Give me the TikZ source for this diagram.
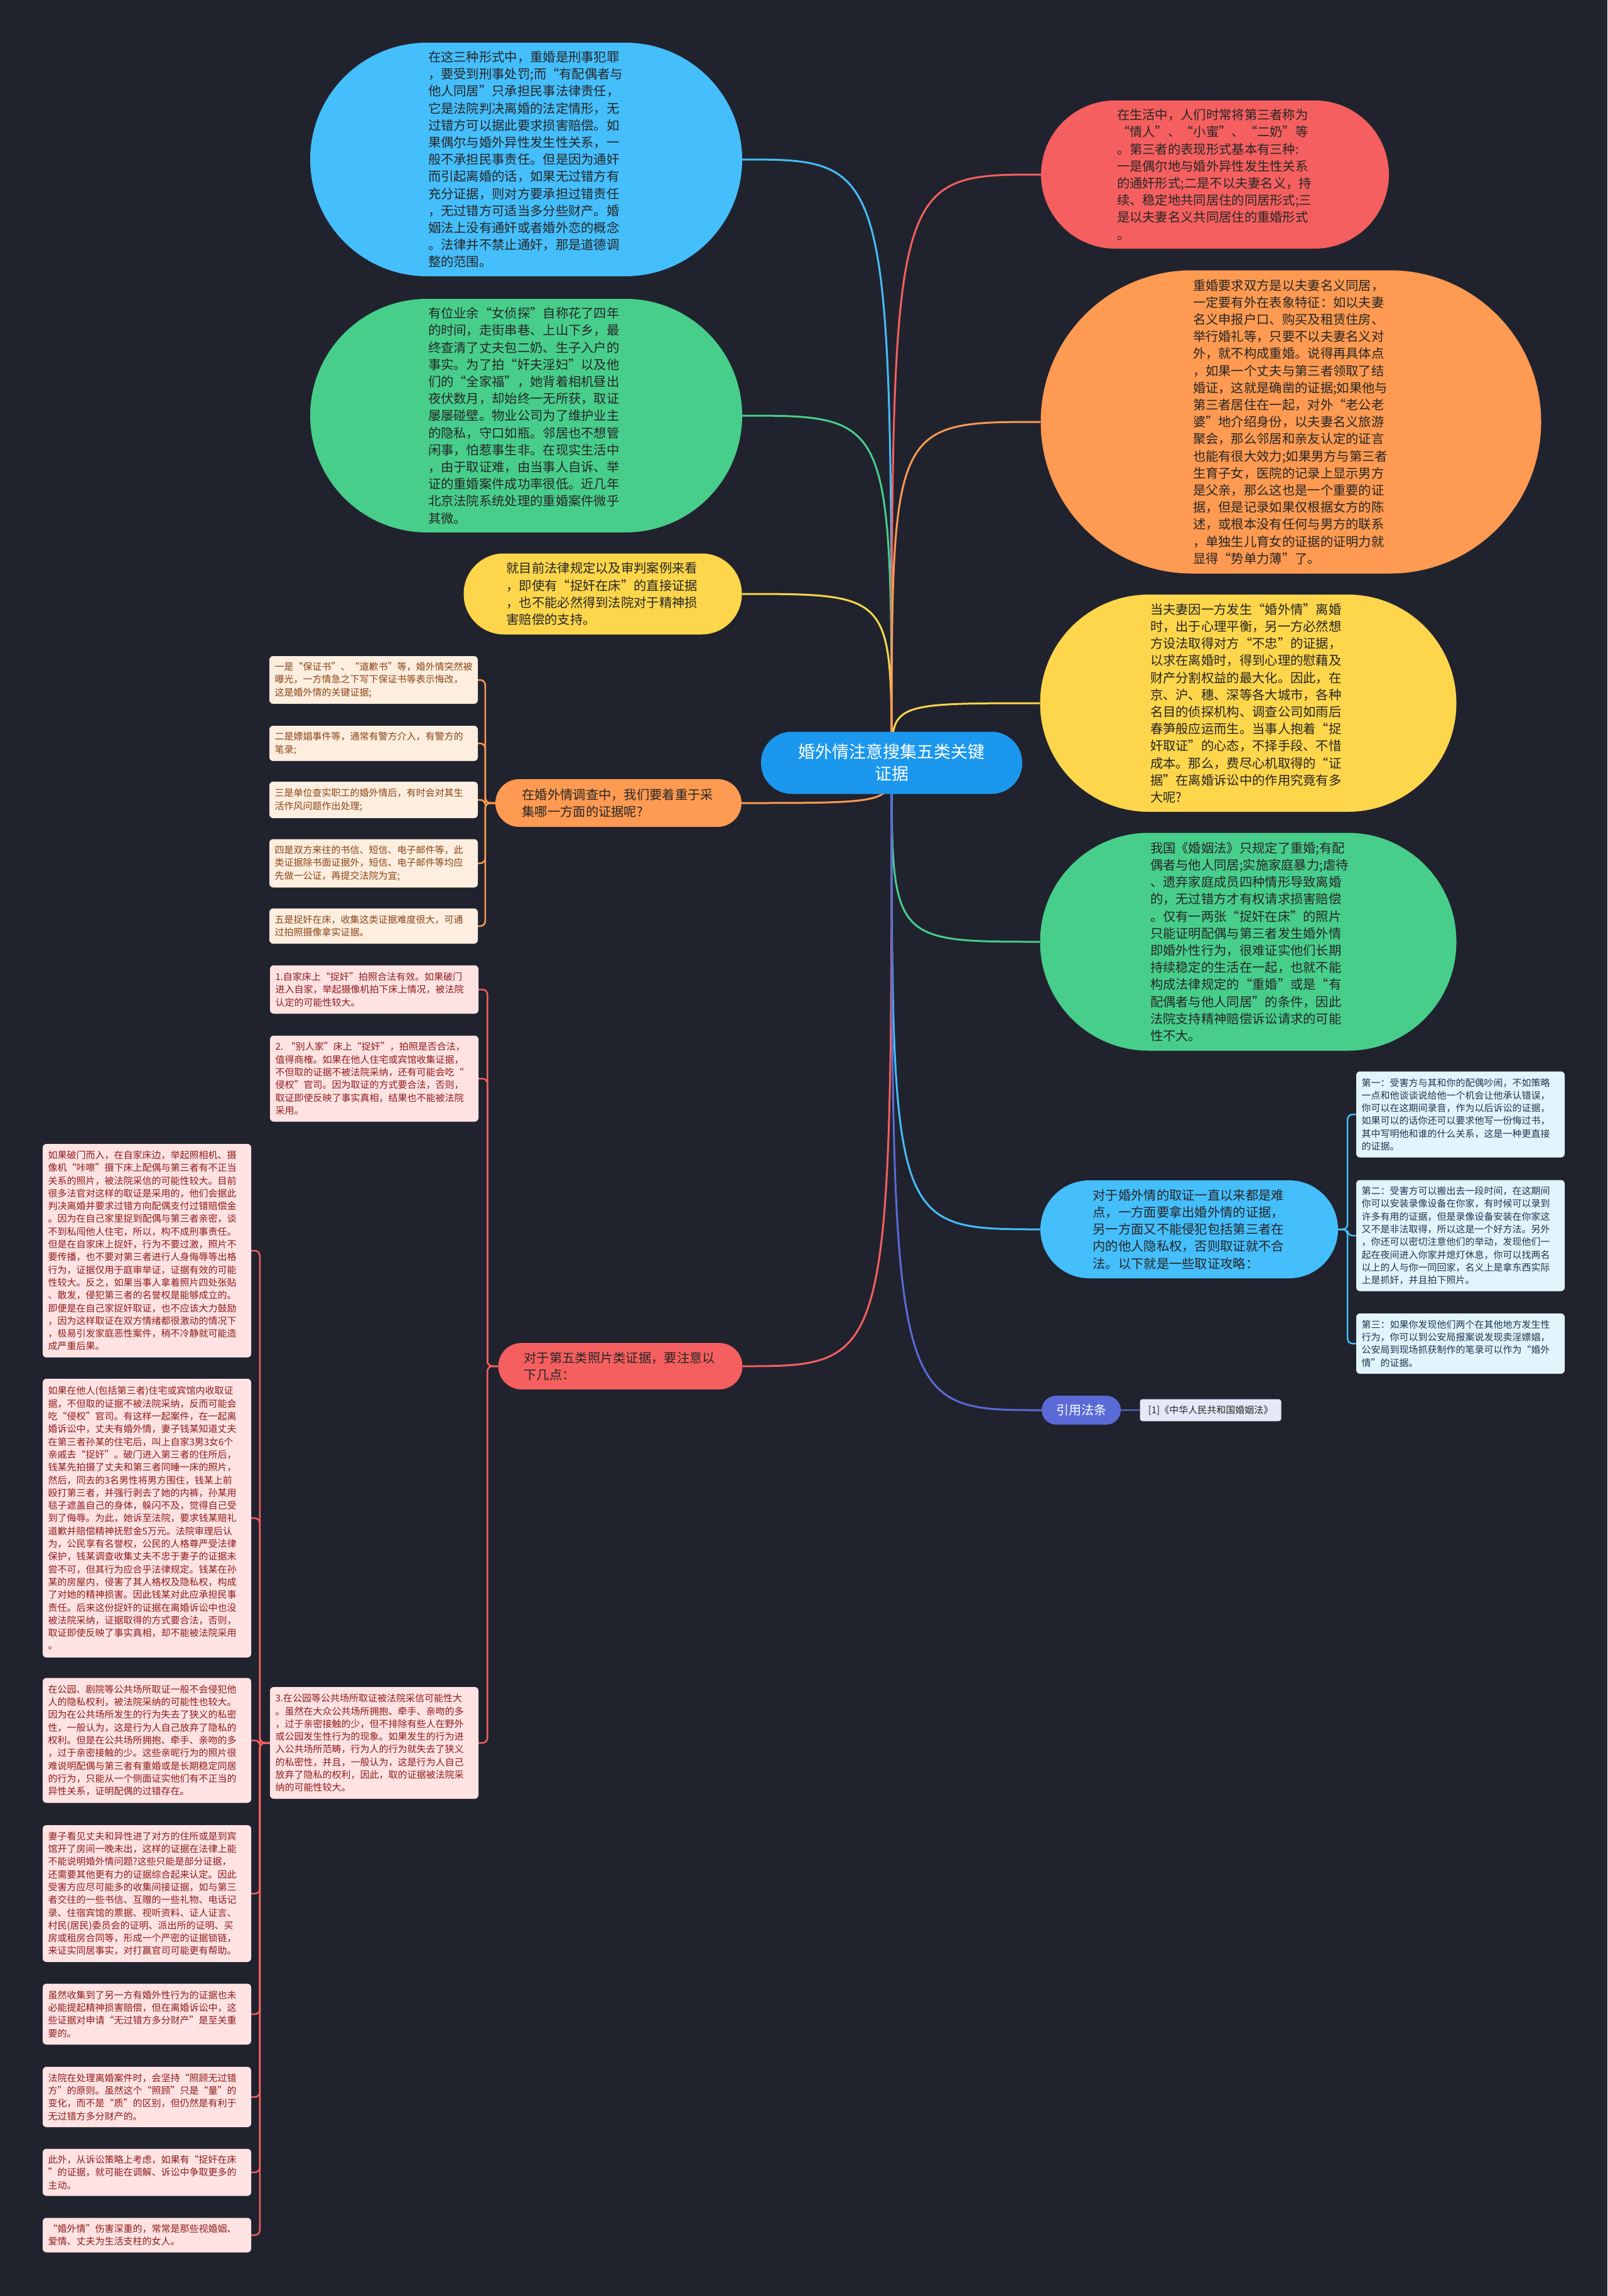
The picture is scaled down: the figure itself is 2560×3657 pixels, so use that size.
\documentclass[tikz,border=0pt]{standalone}
\usepackage{fontspec}
\setmainfont{Noto Sans CJK SC}
\usepackage{xcolor}
\usepackage{tikz}
\usetikzlibrary{positioning}

\definecolor{canvas}{HTML}{20232E}
\definecolor{rootblue}{HTML}{1B98EE}
\definecolor{skyblue}{HTML}{45BEFC}
\definecolor{leafgreen}{HTML}{48CE8B}
\definecolor{sunyellow}{HTML}{FDD64B}
\definecolor{tangerine}{HTML}{FE9A51}
\definecolor{coral}{HTML}{F55F5F}
\definecolor{lawblue}{HTML}{5A6BD7}
\definecolor{peach}{HTML}{FDEEDF}
\definecolor{blush}{HTML}{FFE3E3}
\definecolor{ice}{HTML}{E2F5FD}
\definecolor{lavender}{HTML}{E6E8F8}
\definecolor{inkdark}{HTML}{262626}
\definecolor{rust}{HTML}{8A4416}
\definecolor{wine}{HTML}{8E1B1B}
\definecolor{navy}{HTML}{1E3550}

\newcommand{\bigtxt}{\fontsize{20.3pt}{27.2pt}\selectfont}
\newcommand{\smalltxt}{\fontsize{15pt}{20.3pt}\selectfont}

\pgfdeclarelayer{canvaslayer}
\pgfdeclarelayer{links}
\pgfsetlayers{canvaslayer,links,main}

\begin{document}
\begin{tikzpicture}[
  x=1pt, y=-1pt,
  rootbox/.style={rectangle, fill=rootblue, text=white, align=center, inner sep=0pt, minimum width=416pt, minimum height=99pt, rounded corners=49pt, font=\fontsize{27pt}{35pt}\selectfont},
  bubble/.style={rectangle, fill=#1, text=inkdark, align=left, inner sep=0pt, text width=312pt, font=\bigtxt},
  topic/.style={rectangle, fill=#1, text=inkdark, align=left, inner sep=0pt, text width=307pt, font=\bigtxt},
  leaf/.style={rectangle, rounded corners=6pt, text width=315pt, inner xsep=8.5pt, inner ysep=4pt, align=left, font=\smalltxt},
  peachleaf/.style={leaf, fill=peach, text=rust},
  pinkleaf/.style={leaf, fill=blush, text=wine},
  iceleaf/.style={leaf, fill=ice, text=navy},
  trunk/.style={line width=3pt},
  twig/.style={line width=2.5pt, rounded corners=8pt},
]
\useasboundingbox (0,0) rectangle (2560,3657);
\begin{pgfonlayer}{canvaslayer}
\fill[canvas] (0,0) rectangle (2560,3657);
\end{pgfonlayer}

\node[rootbox] (root) at (1420,1215) {婚外情注意搜集五类关键\\证据};

\node[bubble=skyblue, minimum width=688pt, minimum height=372pt, rounded corners=186pt] (tlblue) at (838,254) {在这三种形式中，重婚是刑事犯罪\\，要受到刑事处罚;而“有配偶者与\\他人同居”只承担民事法律责任，\\它是法院判决离婚的法定情形，无\\过错方可以据此要求损害赔偿。如\\果偶尔与婚外异性发生性关系，一\\般不承担民事责任。但是因为通奸\\而引起离婚的话，如果无过错方有\\充分证据，则对方要承担过错责任\\，无过错方可适当多分些财产。婚\\姻法上没有通奸或者婚外恋的概念\\。法律并不禁止通奸，那是道德调\\整的范围。};
\node[bubble=leafgreen, minimum width=688pt, minimum height=372pt, rounded corners=186pt] (lgreen) at (838,662) {有位业余“女侦探”自称花了四年\\的时间，走街串巷、上山下乡，最\\终查清了丈夫包二奶、生子入户的\\事实。为了拍“奸夫淫妇”以及他\\们的“全家福”，她背着相机昼出\\夜伏数月，却始终一无所获，取证\\屡屡碰壁。物业公司为了维护业主\\的隐私，守口如瓶。邻居也不想管\\闲事，怕惹事生非。在现实生活中\\，由于取证难，由当事人自诉、举\\证的重婚案件成功率很低。近几年\\北京法院系统处理的重婚案件微乎\\其微。};
\node[topic=sunyellow, minimum width=443pt, minimum height=129pt, rounded corners=64pt] (lyellow) at (960,946) {就目前法律规定以及审判案例来看\\，即使有“捉奸在床”的直接证据\\，也不能必然得到法院对于精神损\\害赔偿的支持。};
\node[topic=tangerine, minimum width=392pt, minimum height=76pt, rounded corners=38pt] (qorange) at (985,1279) {在婚外情调查中，我们要着重于采\\集哪一方面的证据呢?};
\node[topic=coral, minimum width=389pt, minimum height=74pt, rounded corners=37pt] (photored) at (988,2176) {对于第五类照片类证据，要注意以\\下几点：};

\node[bubble=coral, minimum width=554pt, minimum height=236pt, rounded corners=118pt] (rred) at (1935,278) {在生活中，人们时常将第三者称为\\“情人”、“小蜜”、“二奶”等\\。第三者的表现形式基本有三种:\\一是偶尔地与婚外异性发生性关系\\的通奸形式;二是不以夫妻名义，持\\续、稳定地共同居住的同居形式;三\\是以夫妻名义共同居住的重婚形式\\。};
\node[bubble=tangerine, minimum width=797pt, minimum height=483pt, rounded corners=241pt] (rorange) at (2056,672) {重婚要求双方是以夫妻名义同居，\\一定要有外在表象特征：如以夫妻\\名义申报户口、购买及租赁住房、\\举行婚礼等，只要不以夫妻名义对\\外，就不构成重婚。说得再具体点\\，如果一个丈夫与第三者领取了结\\婚证，这就是确凿的证据;如果他与\\第三者居住在一起，对外“老公老\\婆”地介绍身份，以夫妻名义旅游\\聚会，那么邻居和亲友认定的证言\\也能有很大效力;如果男方与第三者\\生育子女，医院的记录上显示男方\\是父亲，那么这也是一个重要的证\\据，但是记录如果仅根据女方的陈\\述，或根本没有任何与男方的联系\\，单独生儿育女的证据的证明力就\\显得“势单力薄”了。};
\node[bubble=sunyellow, minimum width=663pt, minimum height=346pt, rounded corners=173pt] (ryellow) at (1988,1120) {当夫妻因一方发生“婚外情”离婚\\时，出于心理平衡，另一方必然想\\方设法取得对方“不忠”的证据，\\以求在离婚时，得到心理的慰藉及\\财产分割权益的最大化。因此，在\\京、沪、穗、深等各大城市，各种\\名目的侦探机构、调查公司如雨后\\春笋般应运而生。当事人抱着“捉\\奸取证”的心态，不择手段、不惜\\成本。那么，费尽心机取得的“证\\据”在离婚诉讼中的作用究竟有多\\大呢?};
\node[bubble=leafgreen, minimum width=663pt, minimum height=347pt, rounded corners=173pt] (rgreen) at (1988,1500) {我国《婚姻法》只规定了重婚;有配\\偶者与他人同居;实施家庭暴力;虐待\\、遗弃家庭成员四种情形导致离婚\\的，无过错方才有权请求损害赔偿\\。仅有一两张“捉奸在床”的照片\\只能证明配偶与第三者发生婚外情\\即婚外性行为，很难证实他们长期\\持续稳定的生活在一起，也就不能\\构成法律规定的“重婚”或是“有\\配偶者与他人同居”的条件，因此\\法院支持精神赔偿诉讼请求的可能\\性不大。};
\node[topic=skyblue, minimum width=474pt, minimum height=156pt, rounded corners=78pt] (rblue) at (1894,1958) {对于婚外情的取证一直以来都是难\\点，一方面要拿出婚外情的证据，\\另一方面又不能侵犯包括第三者在\\内的他人隐私权，否则取证就不合\\法。以下就是一些取证攻略：};
\node[rectangle, fill=lawblue, text=white, inner sep=0pt, minimum width=126pt, minimum height=46pt, rounded corners=23pt, font=\fontsize{20pt}{24pt}\selectfont] (lawtag) at (1722,2246) {引用法条};
\node[rectangle, fill=lavender, text=inkdark, inner sep=0pt, minimum width=225pt, minimum height=35pt, rounded corners=4pt, font=\smalltxt] (lawref) at (1928,2246) {[1]《中华人民共和国婚姻法》};

\node[peachleaf, minimum height=76pt] (o1) at (595,1083) {一是“保证书”、“道歉书”等，婚外情突然被\\曝光，一方情急之下写下保证书等表示悔改，\\这是婚外情的关键证据;};
\node[peachleaf, minimum height=56pt] (o2) at (595,1184) {二是嫖娼事件等，通常有警方介入，有警方的\\笔录;};
\node[peachleaf, minimum height=58pt] (o3) at (595,1274) {三是单位查实职工的婚外情后，有时会对其生\\活作风问题作出处理;};
\node[peachleaf, minimum height=77pt] (o4) at (595,1375) {四是双方来往的书信、短信、电子邮件等，此\\类证据除书面证据外，短信、电子邮件等均应\\先做一公证，再提交法院为宜;};
\node[peachleaf, minimum height=56pt] (o5) at (595,1475) {五是捉奸在床，收集这类证据难度很大，可通\\过拍照摄像拿实证据。};

\node[pinkleaf, minimum height=77pt] (p1) at (596,1576) {1.自家床上“捉奸”拍照合法有效。如果破门\\进入自家，举起摄像机拍下床上情况，被法院\\认定的可能性较大。};
\node[pinkleaf, minimum height=137pt] (p2) at (596,1718) {2.~“别人家”床上“捉奸”，拍照是否合法，\\值得商榷。如果在他人住宅或宾馆收集证据，\\不但取的证据不被法院采纳，还有可能会吃“\\侵权”官司。因为取证的方式要合法，否则，\\取证即使反映了事实真相，结果也不能被法院\\采用。};
\node[pinkleaf, minimum height=178pt] (p3) at (596,2776) {3.在公园等公共场所取证被法院采信可能性大\\。虽然在大众公共场所拥抱、牵手、亲吻的多\\，过于亲密接触的少，但不排除有些人在野外\\或公园发生性行为的现象。如果发生的行为进\\入公共场所范畴，行为人的行为就失去了狭义\\的私密性，并且，一般认为，这是行为人自己\\放弃了隐私的权利，因此，取的证据被法院采\\纳的可能性较大。};

\node[pinkleaf, minimum height=340pt] (fa) at (234,1992) {如果破门而入，在自家床边，举起照相机、摄\\像机“咔嚓”摄下床上配偶与第三者有不正当\\关系的照片，被法院采信的可能性较大。目前\\很多法官对这样的取证是采用的，他们会据此\\判决离婚并要求过错方向配偶支付过错赔偿金\\。因为在自己家里捉到配偶与第三者亲密，谈\\不到私闯他人住宅，所以，构不成刑事责任。\\但是在自家床上捉奸，行为不要过激，照片不\\要传播，也不要对第三者进行人身侮辱等出格\\行为，证据仅用于庭审举证，证据有效的可能\\性较大。反之，如果当事人拿着照片四处张贴\\、散发，侵犯第三者的名誉权是能够成立的。\\即便是在自己家捉奸取证，也不应该大力鼓励\\，因为这样取证在双方情绪都很激动的情况下\\，极易引发家庭恶性案件，稍不冷静就可能造\\成严重后果。};
\node[pinkleaf, minimum height=444pt] (fb) at (234,2418) {如果在他人(包括第三者)住宅或宾馆内收取证\\据，不但取的证据不被法院采纳，反而可能会\\吃“侵权”官司。有这样一起案件，在一起离\\婚诉讼中，丈夫有婚外情，妻子钱某知道丈夫\\在第三者孙某的住宅后，叫上自家3男3女6个\\亲戚去“捉奸”。破门进入第三者的住所后，\\钱某先拍摄了丈夫和第三者同睡一床的照片，\\然后，同去的3名男性将男方围住，钱某上前\\殴打第三者，并强行剥去了她的内裤，孙某用\\毯子遮盖自己的身体，躲闪不及，觉得自己受\\到了侮辱。为此，她诉至法院，要求钱某赔礼\\道歉并赔偿精神抚慰金5万元。法院审理后认\\为，公民享有名誉权，公民的人格尊严受法律\\保护，钱某调查收集丈夫不忠于妻子的证据未\\尝不可，但其行为应合乎法律规定。钱某在孙\\某的房屋内，侵害了其人格权及隐私权，构成\\了对她的精神损害。因此钱某对此应承担民事\\责任。后来这份捉奸的证据在离婚诉讼中也没\\被法院采纳，证据取得的方式要合法，否则，\\取证即使反映了事实真相，却不能被法院采用\\。};
\node[pinkleaf, minimum height=199pt] (fc) at (234,2772) {在公园、剧院等公共场所取证一般不会侵犯他\\人的隐私权利，被法院采纳的可能性也较大。\\因为在公共场所发生的行为失去了狭义的私密\\性，一般认为，这是行为人自己放弃了隐私的\\权利。但是在公共场所拥抱、牵手、亲吻的多\\，过于亲密接触的少。这些亲昵行为的照片很\\难说明配偶与第三者有重婚或是长期稳定同居\\的行为，只能从一个侧面证实他们有不正当的\\异性关系，证明配偶的过错存在。};
\node[pinkleaf, minimum height=218pt] (fd) at (234,3016) {妻子看见丈夫和异性进了对方的住所或是到宾\\馆开了房间一晚未出，这样的证据在法律上能\\不能说明婚外情问题?这些只能是部分证据，\\还需要其他更有力的证据综合起来认定。因此\\受害方应尽可能多的收集间接证据，如与第三\\者交往的一些书信、互赠的一些礼物、电话记\\录、住宿宾馆的票据、视听资料、证人证言、\\村民(居民)委员会的证明、派出所的证明、买\\房或租房合同等，形成一个严密的证据锁链，\\来证实同居事实，对打赢官司可能更有帮助。};
\node[pinkleaf, minimum height=97pt] (fe) at (234,3208) {虽然收集到了另一方有婚外性行为的证据也未\\必能提起精神损害赔偿，但在离婚诉讼中，这\\些证据对申请“无过错方多分财产”是至关重\\要的。};
\node[pinkleaf, minimum height=96pt] (ff) at (234,3340) {法院在处理离婚案件时，会坚持“照顾无过错\\方”的原则。虽然这个“照顾”只是“量”的\\变化，而不是“质”的区别，但仍然是有利于\\无过错方多分财产的。};
\node[pinkleaf, minimum height=75pt] (fg) at (234,3460) {此外，从诉讼策略上考虑，如果有“捉奸在床\\”的证据，就可能在调解、诉讼中争取更多的\\主动。};
\node[pinkleaf, minimum height=55pt] (fh) at (234,3560) {“婚外情”伤害深重的，常常是那些视婚姻、\\爱情、丈夫为生活支柱的女人。};

\node[iceleaf, minimum height=137pt] (b1) at (2326,1775) {第一：受害方与其和你的配偶吵闹，不如策略\\一点和他谈谈说给他一个机会让他承认错误，\\你可以在这期间录音，作为以后诉讼的证据，\\如果可以的话你还可以要求他写一份悔过书，\\其中写明他和谁的什么关系，这是一种更直接\\的证据。};
\node[iceleaf, minimum height=177pt] (b2) at (2326,1968) {第二：受害方可以搬出去一段时间，在这期间\\你可以安装录像设备在你家，有时候可以录到\\许多有用的证据，但是录像设备安装在你家这\\又不是非法取得，所以这是一个好方法。另外\\，你还可以密切注意他们的举动，发现他们一\\起在夜间进入你家并熄灯休息，你可以找两名\\以上的人与你一同回家，名义上是拿东西实际\\上是抓奸，并且拍下照片。};
\node[iceleaf, minimum height=96pt] (b3) at (2326,2140) {第三：如果你发现他们两个在其他地方发生性\\行为，你可以到公安局报案说发现卖淫嫖娼，\\公安局到现场抓获制作的笔录可以作为“婚外\\情”的证据。};

\begin{pgfonlayer}{links}
\foreach \kid/\hue in {tlblue/skyblue, lgreen/leafgreen, lyellow/sunyellow, qorange/tangerine, photored/coral}
  \draw[trunk, draw=\hue] (root.center) .. controls (root.center |- \kid.east) .. (\kid.east);
\foreach \kid/\hue in {rred/coral, rorange/tangerine, ryellow/sunyellow, rgreen/leafgreen, rblue/skyblue, lawtag/lawblue}
  \draw[trunk, draw=\hue] (root.center) .. controls (root.center |- \kid.west) .. (\kid.west);
\foreach \kid in {o1,o2,o3,o4,o5}
  \draw[twig, draw=tangerine] (qorange.west) -- ++(-16,0) |- (\kid.east);
\foreach \kid in {p1,p2,p3}
  \draw[twig, draw=coral] (photored.west) -- ++(-17,0) |- (\kid.east);
\foreach \kid in {fa,fb,fc,fd,fe,ff,fg,fh}
  \draw[twig, draw=coral] (p3.west) -- ++(-16,0) |- (\kid.east);
\foreach \kid in {b1,b2,b3}
  \draw[twig, draw=skyblue] (rblue.east) -- ++(15,0) |- (\kid.west);
\draw[twig, draw=lawblue] (lawtag) -- (lawref);
\end{pgfonlayer}
\end{tikzpicture}
\end{document}
